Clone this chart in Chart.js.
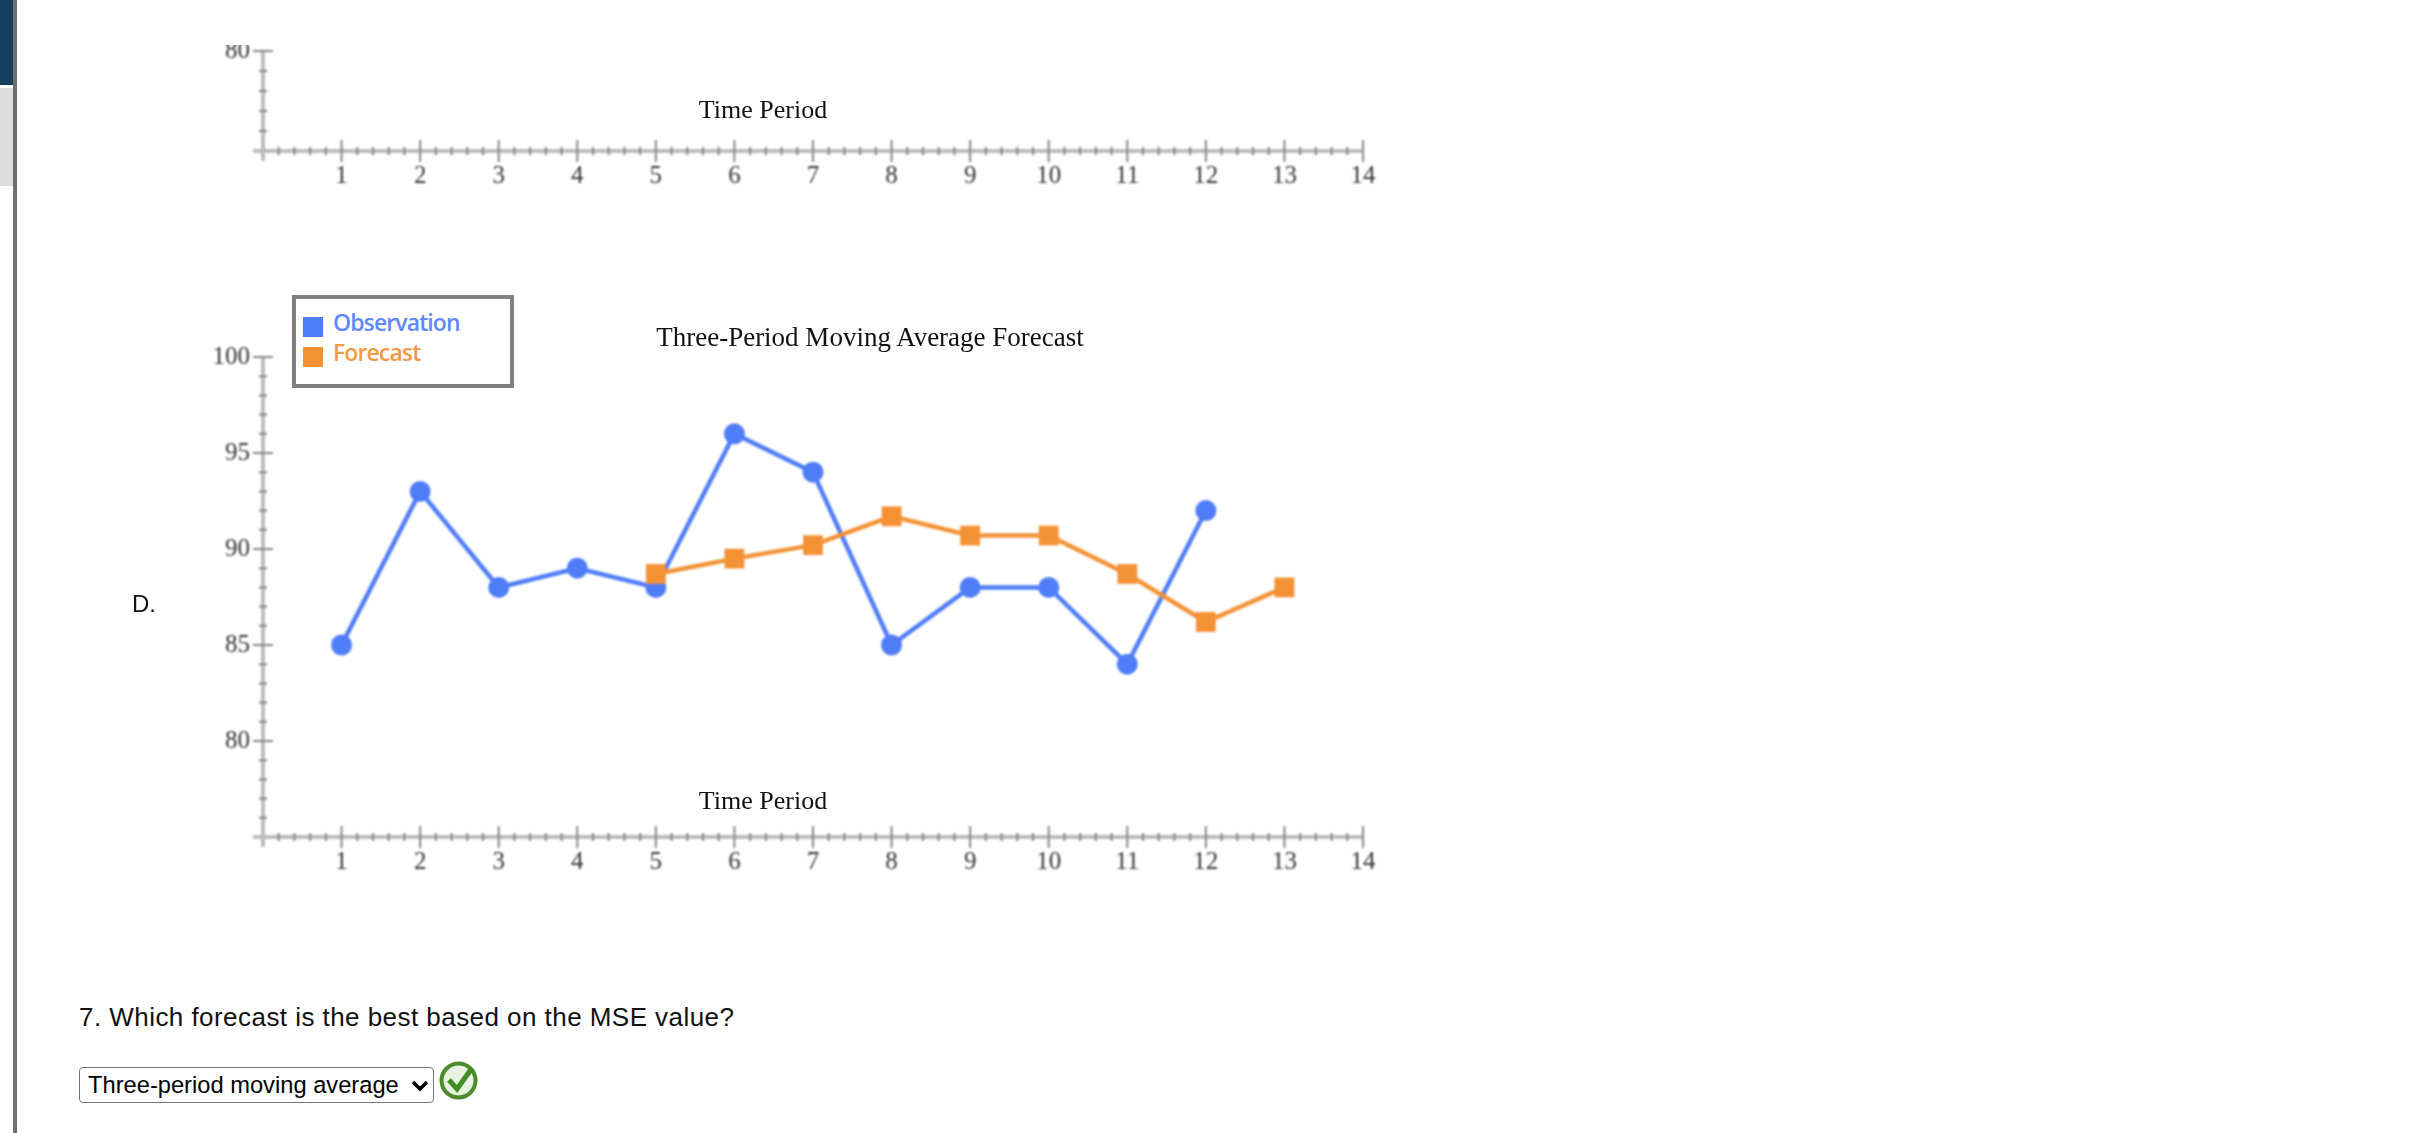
<!DOCTYPE html>
<html>
<head>
<meta charset="utf-8">
<title>Three-Period Moving Average Forecast</title>
<script src="https://cdn.jsdelivr.net/npm/chart.js@4"></script>
<style>
    html, body { margin: 0; padding: 0; background: #fff; }
    body { width: 2436px; height: 1133px; position: relative; overflow: hidden; font-family: "Liberation Sans", sans-serif; }
    .abs { position: absolute; }
    .bar { left: 13px; top: 0; width: 4px; height: 1133px; background: #6f6f6f; }
    .navy { left: 0; top: 0; width: 13px; height: 85px; background: #17405f; }
    .pale { left: 0; top: 88px; width: 13px; height: 98px; background: #dcdcdc; }
    .clip { left: 0; top: 45px; width: 1500px; height: 170px; overflow: hidden; }
    canvas { display: block; filter: blur(0.8px); }
    .serif { font-family: "Liberation Serif", serif; color: #111; white-space: nowrap; transform: translate(-50%, -50%); }
    .legend { left: 292px; top: 295px; width: 222px; height: 93px; box-sizing: border-box; border: 4px solid #808080; background: #fff; }
    .swatch { left: 303px; width: 20px; height: 20px; }
    .legend-text { left: 333px; font-family: "Open Sans", sans-serif; font-size: 23px; font-weight: 600; line-height: 30px; white-space: nowrap; letter-spacing: -0.9px; }
    .letter { left: 132px; top: 590px; font-size: 24px; color: #111; }
    .question { left: 79px; top: 1001px; font-size: 26px; line-height: 32px; color: #111; letter-spacing: 0.45px; white-space: nowrap; }
    select { left: 79px; top: 1067px; width: 355px; height: 36px; font: 23.7px "Liberation Sans", sans-serif; color: #000; border: 1.5px solid #767676; border-radius: 4px; padding: 0 0 0 8px; appearance: none; background: #fff url("data:image/svg+xml,%3Csvg xmlns='http://www.w3.org/2000/svg' width='18' height='12'%3E%3Cpath d='M2 2 L9 9 L16 2' fill='none' stroke='%23000' stroke-width='3.5'/%3E%3C/svg%3E") no-repeat 331px 12px; }
</style>
</head>
<body>
<div class="abs bar"></div>
<div class="abs navy"></div>
<div class="abs pale"></div>

<div class="abs clip"><canvas id="topChart" class="abs" style="left:103px;top:-24px"></canvas></div>
<div class="abs serif" style="left:763px;top:110px;font-size:26px">Time Period</div>

<canvas id="forecastChart" class="abs" style="left:103px;top:327px"></canvas>
<div id="legend"></div>
<div class="abs serif" style="left:870px;top:337px;font-size:27px">Three-Period Moving Average Forecast</div>
<div class="abs serif" style="left:763px;top:801px;font-size:26px">Time Period</div>

<div class="abs letter">D.</div>
<div class="abs question">7. Which forecast is the best based on the MSE value?</div>
<select class="abs"><option>Three-period moving average</option></select>
<svg class="abs" style="left:439px;top:1061px" width="39" height="39" viewBox="0 0 39 39">
    <circle cx="19.5" cy="19.5" r="17" fill="#e8f2e0" stroke="#4c8c2b" stroke-width="4"/>
    <path d="M10 19 L18 28 L33 7" fill="none" stroke="#3f8f23" stroke-width="5"/>
</svg>

<script>
// Chart data
const periods = [1, 2, 3, 4, 5, 6, 7, 8, 9, 10, 11, 12, 13];
const observation = [85, 93, 88, 89, 88, 96, 94, 85, 88, 88, 84, 92, null];
const forecast = [null, null, null, null, 88.7, 89.5, 90.2, 91.7, 90.7, 90.7, 88.7, 86.2, 88];
const seriesNames = ['Observation', 'Forecast'];
const seriesColors = ['#4f7cf7', '#f39134'];
const legendTextColors = ['#5f88fa', '#f39a45'];

const axisFont = { family: '"Liberation Serif", serif', size: 25 };

// Draws both axes where they cross, with long ticks on labelled values
const crossAxes = {
    id: 'crossAxes',
    afterDatasetsDraw(chart) {
        const ctx = chart.ctx;
        const { x, y } = chart.scales;
        const left = x.getPixelForValue(0);
        const bottom = y.getPixelForValue(y.min);
        ctx.save();

        ctx.strokeStyle = '#bcbcbc';
        ctx.lineWidth = 4;
        ctx.beginPath();
        ctx.moveTo(left - 10, bottom);
        ctx.lineTo(x.right, bottom);
        ctx.moveTo(left, y.top);
        ctx.lineTo(left, bottom + 10);
        ctx.stroke();

        ctx.strokeStyle = '#858585';
        ctx.lineWidth = 2;
        ctx.beginPath();
        x.ticks.forEach(t => {
            if (t.value === 0) return;
            const px = x.getPixelForValue(t.value);
            const len = Number.isInteger(t.value) ? 11 : 4;
            ctx.moveTo(px, bottom - len);
            ctx.lineTo(px, bottom + len);
        });
        y.ticks.forEach(t => {
            if (t.value === y.min) return;
            const py = y.getPixelForValue(t.value);
            const len = t.value % 5 === 0 ? 10 : 4;
            ctx.moveTo(left - len, py);
            ctx.lineTo(left + len, py);
        });
        ctx.stroke();
        ctx.restore();
    }
};

function axisOptions(yMin, yMax) {
    return {
        x: {
            type: 'linear',
            min: 0,
            max: 14,
            grid: { display: false },
            border: { display: false },
            afterFit: scale => { scale.height = 50; },
            ticks: {
                stepSize: 0.2,
                autoSkip: false,
                maxRotation: 0,
                padding: 2,
                color: '#333',
                font: axisFont,
                callback: value => (Number.isInteger(value) && value > 0 ? value : '')
            }
        },
        y: {
            min: yMin,
            max: yMax,
            grid: { display: false },
            border: { display: false },
            afterFit: scale => { scale.width = 160; },
            ticks: {
                stepSize: 1,
                autoSkip: false,
                padding: 5,
                color: '#333',
                font: axisFont,
                callback: value => (value % 5 === 0 && value !== yMin ? value : '')
            }
        }
    };
}

function makeChart(id, width, height, datasets, yMin, yMax) {
    const canvas = document.getElementById(id);
    canvas.style.width = width + 'px';
    canvas.style.height = height + 'px';
    canvas.width = width;
    canvas.height = height;
    return new Chart(canvas, {
        type: 'line',
        data: { datasets: datasets },
        plugins: [crossAxes],
        options: {
            responsive: false,
            animation: false,
            parsing: false,
            layout: { padding: { top: 30, right: 30 } },
            plugins: { legend: { display: false }, tooltip: { enabled: false } },
            scales: axisOptions(yMin, yMax)
        }
    });
}

function toPoints(values) {
    return periods.map((p, i) => ({ x: p, y: values[i] })).filter(p => p.y !== null);
}

// Upper chart only shows its axes, the top of it is cut off by the page
makeChart('topChart', 1290, 180, [], 75, 80);

makeChart('forecastChart', 1290, 560, [
    {
        label: seriesNames[0],
        data: toPoints(observation),
        borderColor: seriesColors[0],
        backgroundColor: seriesColors[0],
        borderWidth: 4.5,
        pointRadius: 10.5,
        pointBorderWidth: 0,
        tension: 0,
        order: 2
    },
    {
        label: seriesNames[1],
        data: toPoints(forecast),
        borderColor: seriesColors[1],
        backgroundColor: seriesColors[1],
        borderWidth: 4.5,
        pointStyle: 'rect',
        pointRadius: 14,
        pointBorderWidth: 0,
        tension: 0,
        order: 1
    }
], 75, 100);

// Legend box
const legendEl = document.getElementById('legend');
let legendHtml = '<div class="abs legend"></div>';
seriesNames.forEach((name, i) => {
    legendHtml += `<div class="abs swatch" style="top:${317 + i * 30}px;background:${seriesColors[i]}"></div>`;
    legendHtml += `<div class="abs legend-text" style="top:${307 + i * 30}px;color:${legendTextColors[i]}">${name}</div>`;
});
legendEl.innerHTML = legendHtml;
</script>
</body>
</html>
